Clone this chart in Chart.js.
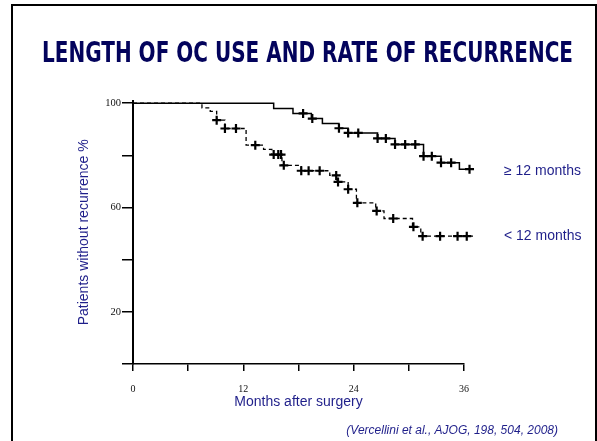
<!DOCTYPE html>
<html>
<head>
<meta charset="utf-8">
<script src="https://cdn.jsdelivr.net/npm/chart.js@4/dist/chart.umd.min.js"></script>
<style>
  html, body { margin: 0; padding: 0; background: #fff; }
  #wrap { width: 597px; height: 441px; }
</style>
</head>
<body>
<div id="wrap"><canvas id="c" width="597" height="441"></canvas></div>
<script>
// ---- data ----
const titleText = 'LENGTH OF OC USE AND RATE OF RECURRENCE';
const xTitle = 'Months after surgery';
const yTitle = 'Patients without recurrence %';
const citation = '(Vercellini et al., AJOG, 198, 504, 2008)';

const xTicks = [0, 6, 12, 18, 24, 30, 36];
const xTickLabels = ['0', '', '12', '', '24', '', '36'];
const yTicks = [0, 20, 40, 60, 80, 100];
const yTickLabels = ['', '20', '', '60', '', '100'];

const seriesLabels = ['\u2265 12 months', '< 12 months'];

// >= 12 months (solid)
const monthsLong = [0, 15.3, 17.4, 19.4, 20.6, 22.4, 23.4, 26.6, 28.5, 31.6, 33.5, 35.5, 37];
const survLong   = [100, 98.0, 96.1, 94.1, 92.2, 90.4, 88.6, 86.5, 84.2, 79.7, 77.2, 74.7, 74.7];
const censorLong = [18.5, 19.5, 22.4, 23.4, 24.5, 26.6, 27.5, 28.5, 29.6, 30.7, 31.6, 32.5, 33.5, 34.6, 36.6];

// < 12 months (dashed)
const monthsShort = [0, 7.5, 8.4, 9.1, 10.0, 12.3, 14.2, 15.1, 16.2, 18.3, 21.4, 22.2, 23.4, 24.3, 26.4, 27.3, 30.4, 31.3, 37];
const survShort   = [100, 98.2, 96.9, 93.5, 90.3, 83.9, 82.3, 80.3, 76.2, 74.1, 72.3, 69.8, 67.0, 61.8, 58.7, 55.8, 52.6, 49.0, 49.0];
const censorShort = [9.1, 10.0, 11.2, 13.3, 15.3, 15.8, 16.1, 16.4, 18.3, 19.1, 20.3, 22.1, 22.3, 23.4, 24.4, 26.5, 28.3, 30.5, 31.5, 33.4, 35.3, 36.3];

// ---- helpers ----
function stepValue(months, surv, t) {
  let v = surv[0];
  for (let i = 0; i < months.length; i++) { if (t >= months[i]) v = surv[i]; }
  return v;
}
const pts = (ms, vs) => ms.map((m, i) => ({ x: m, y: vs[i] }));
const censorPts = (cs, ms, vs) => cs.map(t => ({ x: t, y: stepValue(ms, vs, t) }));

const NAVY = '#1f1f8a';
const DARKNAVY = '#03035c';

const decor = {
  id: 'decor',
  beforeDraw(chart) {
    const ctx = chart.ctx;
    ctx.save();
    ctx.fillStyle = '#fff';
    ctx.fillRect(0, 0, chart.width, chart.height);
    ctx.strokeStyle = '#000';
    ctx.lineWidth = 2;
    ctx.strokeRect(12, 5, 584, 500);
    ctx.restore();
  },
  afterDraw(chart) {
    const ctx = chart.ctx;
    const xs = chart.scales.x, ys = chart.scales.y;
    ctx.save();
    ctx.fillStyle = NAVY;
    ctx.font = '14px "Liberation Sans", Arial, sans-serif';
    ctx.textAlign = 'left';
    ctx.textBaseline = 'middle';
    const lx = xs.getPixelForValue(36) + 40;
    ctx.fillText(seriesLabels[0], lx, ys.getPixelForValue(survLong[survLong.length - 1]) + 2);
    ctx.fillText(seriesLabels[1], lx, ys.getPixelForValue(survShort[survShort.length - 1]));
    ctx.font = 'italic 12px "Liberation Sans", Arial, sans-serif';
    ctx.textAlign = 'right';
    ctx.fillText(citation, 558, 431);
    ctx.restore();
  }
};

new Chart(document.getElementById('c'), {
  type: 'line',
  data: {
    datasets: [
      { data: pts(monthsLong, survLong), stepped: 'before', borderColor: '#000', borderWidth: 1.5,
        pointRadius: 0, fill: false, clip: false },
      { data: pts(monthsShort, survShort), stepped: 'before', borderColor: '#000', borderWidth: 1.3,
        borderDash: [4, 3], pointRadius: 0, fill: false, clip: false },
      { data: censorPts(censorLong, monthsLong, survLong), showLine: false, pointStyle: 'cross',
        pointRadius: 4.5, pointBorderWidth: 2.2, borderColor: '#000', backgroundColor: '#000', clip: false },
      { data: censorPts(censorShort, monthsShort, survShort), showLine: false, pointStyle: 'cross',
        pointRadius: 4.5, pointBorderWidth: 2.2, borderColor: '#000', backgroundColor: '#000', clip: false }
    ]
  },
  options: {
    responsive: false,
    animation: false,
    events: [],
    layout: { padding: { left: 42, right: 24, top: 0, bottom: 30 } },
    plugins: {
      legend: { display: false },
      tooltip: { enabled: false },
      title: {
        display: true, text: titleText, color: DARKNAVY,
        font: { family: '"DejaVu Sans", sans-serif', size: 28, weight: 'bold', lineHeight: 1.2 },
        padding: { top: 38, bottom: 29 }
      }
    },
    scales: {
      x: {
        type: 'linear', min: 0, max: 36,
        afterBuildTicks: s => { s.ticks = xTicks.map(v => ({ value: v })); },
        afterFit: s => { s.height = 47; },
        ticks: {
          callback: (v) => { const i = xTicks.indexOf(v); return i >= 0 ? xTickLabels[i] : ''; },
          font: { family: '"Liberation Serif", serif', size: 10 }, color: '#111', padding: 12,
          maxRotation: 0, autoSkip: false
        },
        grid: { drawOnChartArea: false, drawTicks: true, tickLength: 7, color: '#000', lineWidth: 1.5 },
        border: { display: true, color: '#000', width: 1.5 },
        title: { display: true, text: xTitle, color: NAVY,
          font: { family: '"Liberation Sans", Arial, sans-serif', size: 14 }, padding: { top: 0, bottom: 0 } }
      },
      y: {
        type: 'linear', min: 0, max: 101,
        afterBuildTicks: s => { s.ticks = yTicks.map(v => ({ value: v })); },
        afterFit: s => { s.width = 91; },
        ticks: {
          callback: (v) => { const i = yTicks.indexOf(v); return i >= 0 ? yTickLabels[i] : ''; },
          font: { family: '"Liberation Serif", serif', size: 10.5 }, color: '#111', padding: 1,
          autoSkip: false
        },
        grid: { drawOnChartArea: false, drawTicks: true, tickLength: 11, color: '#000', lineWidth: 1.5 },
        border: { display: true, color: '#000', width: 2 },
        title: { display: true, text: yTitle, color: NAVY,
          font: { family: '"Liberation Sans", Arial, sans-serif', size: 14 }, padding: { top: 34, bottom: 0 } }
      },
      // empty right-hand gutter that holds the series labels
      yr: {
        type: 'linear', position: 'right', min: 0, max: 101,
        afterFit: s => { s.width = 109; },
        ticks: { display: false },
        grid: { display: false },
        border: { display: false }
      }
    }
  },
  plugins: [decor]
});
</script>
</body>
</html>
